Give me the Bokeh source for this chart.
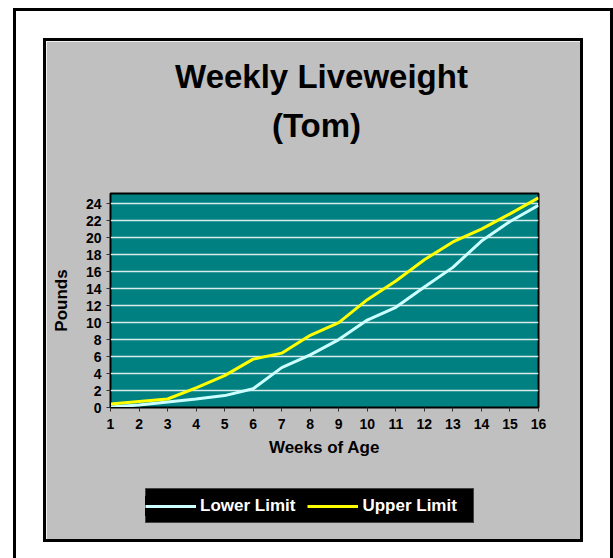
from bokeh.plotting import figure
from bokeh.models import Range1d, Label, Legend, LegendItem
from bokeh.embed import file_html
from bokeh.resources import INLINE

# ---- data ----
weeks = list(range(1, 17))
lower_limit = [0.05, 0.3, 0.65, 1.0, 1.4, 2.2, 4.7, 6.2, 8.0, 10.3, 11.8, 14.2, 16.5, 19.6, 21.9, 23.8]
upper_limit = [0.4, 0.7, 1.0, 2.3, 3.75, 5.7, 6.4, 8.5, 10.0, 12.7, 14.9, 17.4, 19.5, 21.0, 22.8, 24.7]
y_ticks = list(range(0, 25, 2))
x_ticks = weeks
title_lines = ["Weekly Liveweight", "(Tom)"]
series_names = ["Lower Limit", "Upper Limit"]

FONT = "Liberation Sans"
TEAL = "#008080"
GRAY = "#c0c0c0"
LOW_C = "#ccffff"
UP_C = "#ffff00"

# ---------------- main chart (grey panel) ----------------
p = figure(frame_width=428, frame_height=214,
           x_range=Range1d(1, 16), y_range=Range1d(0, 25.2),
           output_backend="svg", toolbar_location=None,
           min_border_left=64, min_border_right=42,
           min_border_top=152, min_border_bottom=132,
           background_fill_color=TEAL, border_fill_color=GRAY,
           outline_line_color="black", outline_line_width=2)
p.styles = {"position": "absolute", "left": "43px", "top": "38px",
            "box-sizing": "content-box",
            "border": "3px solid black",
            "outline": "3px solid black",
            "outline-offset": "27px"}

p.xgrid.visible = False
p.ygrid.ticker = y_ticks
p.ygrid.grid_line_color = "white"
p.ygrid.grid_line_width = 1.5
p.ygrid.grid_line_alpha = 0.85

for ax in (p.xaxis[0], p.yaxis[0]):
    ax.major_label_text_font = FONT
    ax.major_label_text_font_style = "bold"
    ax.major_label_text_font_size = "14px"
    ax.major_label_text_color = "black"
    ax.axis_label_text_font = FONT
    ax.axis_label_text_font_style = "bold"
    ax.axis_label_text_font_size = "17px"
    ax.axis_label_text_color = "black"
    ax.axis_line_color = "black"
    ax.major_tick_line_color = "#333333"
    ax.minor_tick_line_color = None
    ax.major_tick_in = 0
    ax.major_tick_out = 4

p.xaxis.ticker = x_ticks
p.yaxis.ticker = y_ticks
p.xaxis.axis_label = "Weeks of Age"
p.yaxis.axis_label = "Pounds"
p.xaxis.major_label_standoff = 7
p.xaxis.axis_label_standoff = 6
p.yaxis.major_label_standoff = 5
p.yaxis.axis_label_standoff = 12

p.line(weeks, lower_limit, line_color=LOW_C, line_width=3)
p.line(weeks, upper_limit, line_color=UP_C, line_width=3)

# ---------------- title overlay ----------------
t = figure(width=534, height=110, x_range=Range1d(0, 534), y_range=Range1d(0, 110),
           output_backend="svg", toolbar_location=None,
           x_axis_location=None, y_axis_location=None,
           min_border=0, min_border_left=0, min_border_right=0,
           min_border_top=0, min_border_bottom=0,
           background_fill_alpha=0, border_fill_alpha=0, outline_line_color=None)
t.styles = {"position": "absolute", "left": "46px", "top": "45px"}
t.grid.visible = False
t.add_layout(Label(x=275, y=79, text=title_lines[0], text_align="center",
                   text_baseline="alphabetic", text_font=FONT, text_font_style="bold",
                   text_font_size="33px", text_color="black"))
t.add_layout(Label(x=270, y=30, text=title_lines[1], text_align="center",
                   text_baseline="alphabetic", text_font=FONT, text_font_style="bold",
                   text_font_size="33px", text_color="black"))

# ---------------- legend box ----------------
lg = figure(width=329, height=35, x_range=Range1d(100, 101), y_range=Range1d(0, 25.2),
            output_backend="svg", toolbar_location=None,
            x_axis_location=None, y_axis_location=None,
            min_border=0, min_border_left=0, min_border_right=0,
            min_border_top=0, min_border_bottom=0,
            background_fill_color="black", border_fill_color="black",
            outline_line_color="#404040")
lg.styles = {"position": "absolute", "left": "145px", "top": "488px"}
lg.grid.visible = False
lr_low = lg.line(weeks, lower_limit, line_color=LOW_C, line_width=3)
lr_up = lg.line(weeks, upper_limit, line_color=UP_C, line_width=3)
legend = Legend(items=[LegendItem(label=series_names[0], renderers=[lr_low]),
                       LegendItem(label=series_names[1], renderers=[lr_up])],
                orientation="horizontal", location="center_left",
                background_fill_color="black", background_fill_alpha=1,
                border_line_color=None,
                label_text_color="white", label_text_font=FONT,
                label_text_font_style="bold", label_text_font_size="17px",
                glyph_width=51, glyph_height=20, label_standoff=4, spacing=12,
                padding=7, margin=0)
lg.add_layout(legend)

open("out.html", "w").write(file_html([p, t, lg], INLINE))
